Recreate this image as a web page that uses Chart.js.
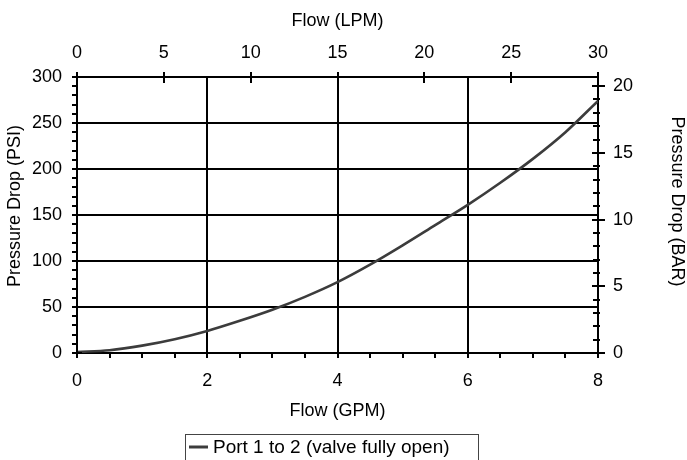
<!DOCTYPE html>
<html>
<head>
<meta charset="utf-8">
<script src="https://cdn.jsdelivr.net/npm/chart.js@4/dist/chart.umd.min.js"></script>
<style>
  html, body { margin: 0; padding: 0; background: #fff; }
  canvas { display: block; }
</style>
</head>
<body>
<canvas id="pressureChart" width="687" height="460"></canvas>
<script>
// values
const flowGpm = [0, 0.5, 1, 1.5, 2, 2.5, 3, 3.5, 4, 4.5, 5, 5.5, 6, 6.5, 7, 7.5, 8];
const pressurePsi = [1, 3, 8, 15, 24, 35, 47, 61, 77, 96, 117, 139, 161, 185, 211, 240, 274];
const seriesLabel = 'Port 1 to 2 (valve fully open)';
const barTicks = [0, 1, 2, 3, 4, 5, 6, 7, 8, 9, 10, 11, 12, 13, 14, 15, 16, 17, 18, 19, 20];
const PSI_PER_BAR = 14.5038;

const lineColor = '#3c3c3c';
const fontFamily = "'Liberation Sans', Arial, sans-serif";
Chart.defaults.font.family = fontFamily;
Chart.defaults.font.size = 18;
Chart.defaults.color = '#000';

const clear = 'rgba(0,0,0,0)';

// tick marks on all four axes + boxed legend
const axisMarks = {
    id: 'axisMarks',
    afterDraw(chart) {
        const { ctx, chartArea: a, scales } = chart;
        ctx.save();
        ctx.strokeStyle = '#000';
        ctx.lineWidth = 2;
        const seg = (x1, y1, x2, y2) => {
            ctx.beginPath();
            ctx.moveTo(x1, y1);
            ctx.lineTo(x2, y2);
            ctx.stroke();
        };
        scales.y.ticks.forEach(t => {
            const y = Math.round(scales.y.getPixelForValue(t.value));
            const major = t.value % 50 === 0;
            seg(a.left - 5, y, a.left + (major ? 5 : 1), y);
        });
        scales.y2.ticks.forEach(t => {
            const y = Math.round(scales.y2.getPixelForValue(t.value));
            const major = t.value % 5 === 0;
            seg(a.right - (major ? 6 : 5), y, a.right + (major ? 7 : 2), y);
        });
        scales.x.ticks.forEach(t => {
            const x = Math.round(scales.x.getPixelForValue(t.value));
            const major = t.value % 2 === 0;
            seg(x, a.bottom - (major ? 5 : 1), x, a.bottom + 5);
        });
        scales.x2.ticks.forEach(t => {
            const x = Math.round(scales.x2.getPixelForValue(t.value));
            seg(x, a.top - 5, x, a.top + 6);
        });

        // legend box
        ctx.lineWidth = 1;
        ctx.strokeStyle = '#444';
        ctx.strokeRect(185.5, 434.5, 293, 40);
        ctx.strokeStyle = lineColor;
        ctx.lineWidth = 3;
        seg(189, 447, 208, 447);
        ctx.fillStyle = '#000';
        ctx.font = '19px ' + fontFamily;
        ctx.textBaseline = 'middle';
        ctx.textAlign = 'left';
        ctx.fillText(seriesLabel, 213, 448);
        ctx.restore();
    }
};

const ctx = document.getElementById('pressureChart').getContext('2d');
new Chart(ctx, {
    type: 'line',
    data: {
        datasets: [{
            label: seriesLabel,
            data: flowGpm.map((f, i) => ({ x: f, y: pressurePsi[i] })),
            borderColor: lineColor,
            borderWidth: 2.6,
            pointRadius: 0,
            cubicInterpolationMode: 'monotone',
            fill: false,
            xAxisID: 'x',
            yAxisID: 'y'
        }]
    },
    options: {
        responsive: false,
        animation: false,
        devicePixelRatio: 1,
        layout: { padding: { left: 0, right: 0, top: 0, bottom: 32 } },
        plugins: {
            legend: { display: false },
            tooltip: { enabled: false }
        },
        scales: {
            x: {
                type: 'linear',
                position: 'bottom',
                min: 0,
                max: 8,
                afterFit: s => { s.height = 75; },
                ticks: {
                    stepSize: 0.5,
                    autoSkip: false,
                    maxRotation: 0,
                    padding: 17,
                    callback: v => (v % 2 === 0 ? v : '')
                },
                grid: {
                    drawTicks: false,
                    lineWidth: 2,
                    color: c => (c.tick && c.tick.value % 2 === 0 ? '#000' : clear)
                },
                border: { color: '#000', width: 2 },
                title: { display: true, text: 'Flow (GPM)', padding: { top: 0, bottom: 6 } }
            },
            x2: {
                type: 'linear',
                position: 'top',
                min: 0,
                max: 30,
                afterFit: s => { s.height = 77; },
                ticks: { stepSize: 5, maxRotation: 0, padding: 13 },
                grid: { drawTicks: false, drawOnChartArea: false },
                border: { color: '#000', width: 2 },
                title: { display: true, text: 'Flow (LPM)', padding: { top: 10, bottom: 0 } }
            },
            y: {
                type: 'linear',
                position: 'left',
                min: 0,
                max: 300,
                afterFit: s => { s.width = 77; },
                ticks: {
                    stepSize: 10,
                    autoSkip: false,
                    padding: 15,
                    callback: v => (v % 50 === 0 ? v : '')
                },
                grid: {
                    drawTicks: false,
                    lineWidth: 2,
                    color: c => (c.tick && c.tick.value % 50 === 0 ? '#000' : clear)
                },
                border: { color: '#000', width: 2 },
                title: { display: true, text: '\u2002\u2002Pressure Drop (PSI)', padding: { top: 4, bottom: 0 } }
            },
            y2: {
                type: 'linear',
                position: 'right',
                min: 0,
                max: 300 / PSI_PER_BAR,
                afterBuildTicks: s => { s.ticks = barTicks.map(v => ({ value: v })); },
                afterFit: s => { s.width = 89; },
                ticks: {
                    autoSkip: false,
                    padding: 15,
                    callback: v => (v % 5 === 0 ? v : '')
                },
                grid: { drawTicks: false, drawOnChartArea: false },
                border: { color: '#000', width: 2 },
                title: { display: true, text: 'Pressure Drop (BAR)\u2002\u2002\u2002', padding: { top: -1, bottom: 0 } }
            }
        }
    },
    plugins: [axisMarks]
});
</script>
</body>
</html>
